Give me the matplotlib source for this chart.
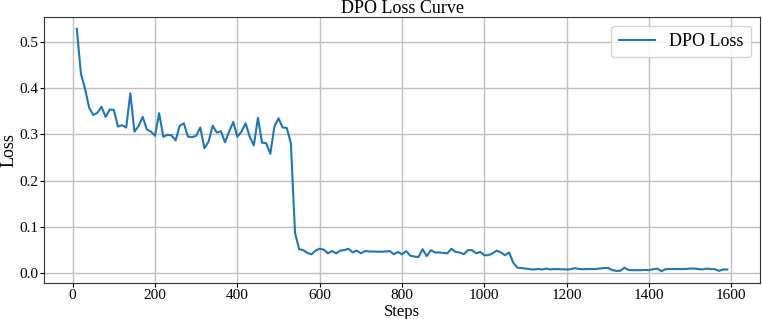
import matplotlib
matplotlib.use("Agg")
import matplotlib.pyplot as plt

# DPO loss logged every 10 steps (10 .. 1590)
steps = list(range(10, 1600, 10))
loss = [
    0.529, 0.432, 0.399, 0.358, 0.342, 0.347, 0.360, 0.338, 0.354, 0.353,
    0.317, 0.320, 0.315, 0.389, 0.306, 0.318, 0.338, 0.311, 0.306, 0.297,
    0.346, 0.295, 0.299, 0.298, 0.287, 0.319, 0.324, 0.295, 0.294, 0.297,
    0.315, 0.270, 0.284, 0.319, 0.304, 0.307, 0.283, 0.306, 0.327, 0.295,
    0.306, 0.324, 0.295, 0.276, 0.336, 0.282, 0.281, 0.258, 0.317, 0.335,
    0.315, 0.314, 0.281, 0.087, 0.051, 0.049, 0.043, 0.040, 0.048, 0.052,
    0.050, 0.042, 0.047, 0.042, 0.048, 0.049, 0.052, 0.044, 0.048, 0.042,
    0.047, 0.046, 0.046, 0.0456, 0.0456, 0.046, 0.047, 0.040, 0.045, 0.040,
    0.047, 0.037, 0.035, 0.034, 0.051, 0.036, 0.049, 0.044, 0.044, 0.043,
    0.042, 0.052, 0.045, 0.044, 0.040, 0.049, 0.049, 0.042, 0.045, 0.038,
    0.038, 0.042, 0.048, 0.044, 0.038, 0.044, 0.022, 0.011, 0.010, 0.009,
    0.0076, 0.0069, 0.0083, 0.0069, 0.009, 0.007, 0.008, 0.0076, 0.007, 0.007,
    0.0076, 0.010, 0.008, 0.0076, 0.008, 0.008, 0.008, 0.009, 0.010, 0.0105,
    0.006, 0.004, 0.004, 0.011, 0.006, 0.0055, 0.0055, 0.0055, 0.006, 0.0055,
    0.0076, 0.009, 0.0033, 0.0076, 0.008, 0.008, 0.008, 0.008, 0.008, 0.009,
    0.009, 0.008, 0.007, 0.009, 0.008, 0.0076, 0.004, 0.007, 0.007,
]

plt.rcParams["font.family"] = ["Liberation Serif", "DejaVu Serif"]

fig = plt.figure(figsize=(7.62, 3.19), dpi=100)
ax = fig.add_axes([0.0581, 0.1119, 0.939, 0.8357])

ax.plot(steps, loss, color="#1f77b4", linewidth=1.5, label="DPO Loss")

ax.set_title("DPO Loss Curve", fontsize=13, pad=3)
ax.set_xlabel("Steps", fontsize=12)
ax.set_ylabel("Loss", fontsize=13)
ax.xaxis.set_label_coords(0.5, -0.077)
ax.yaxis.set_label_coords(-0.037, 0.5)
ax.set_xticks([0, 200, 400, 600, 800, 1000, 1200, 1400, 1600])
ax.set_yticks([0.0, 0.1, 0.2, 0.3, 0.4, 0.5])
ax.tick_params(labelsize=11, pad=1, length=3)
ax.grid(True, color="#c0c0c0", linewidth=1.0)
for s in ax.spines.values():
    s.set_color("#333333")
ax.legend(loc="upper right", fontsize=13, handlelength=2.0)

fig.savefig("out.png", dpi=100)
